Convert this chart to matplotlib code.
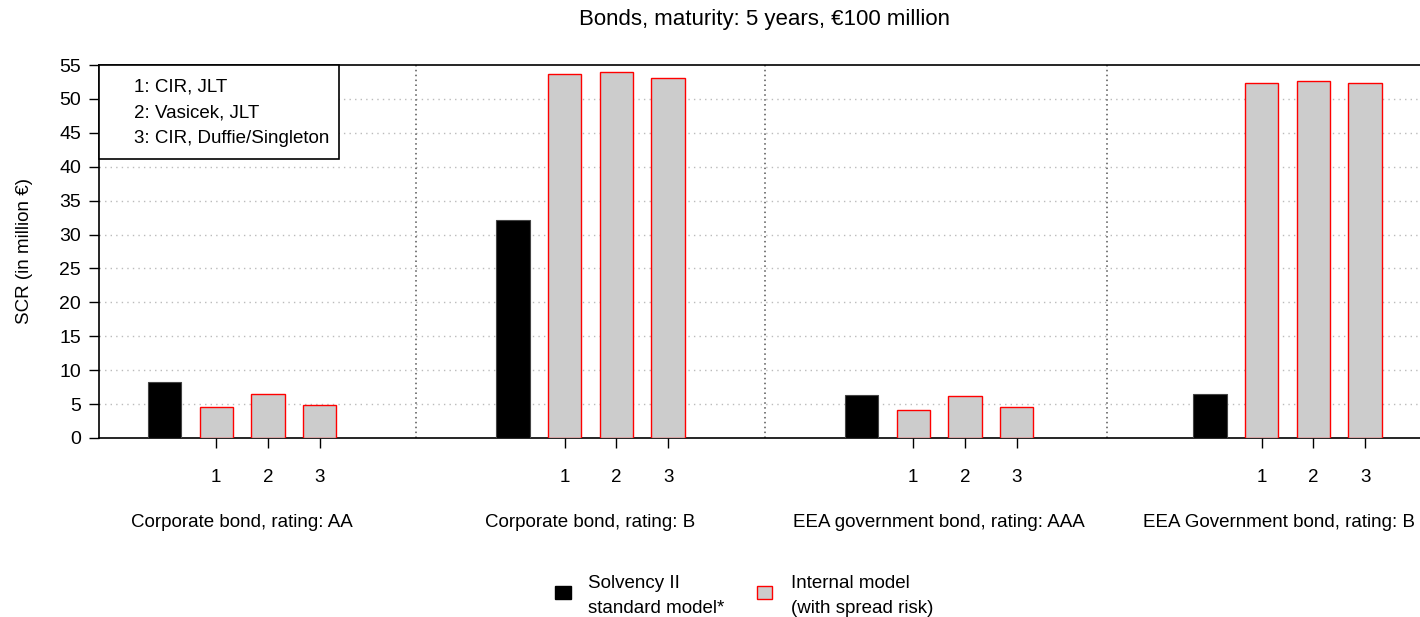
import matplotlib.pyplot as plt
import matplotlib.patches as mpatches

plt.rcParams['font.family'] = ['Liberation Sans', 'DejaVu Sans']
plt.rcParams['font.size'] = 13.5

# data
groups = ['Corporate bond, rating: AA', 'Corporate bond, rating: B',
          'EEA government bond, rating: AAA', 'EEA Government bond, rating: B']
standard = [8.3, 32.2, 6.3, 6.5]
internal = [[4.5, 6.5, 4.9],
            [53.7, 53.9, 53.1],
            [4.1, 6.15, 4.5],
            [52.4, 52.6, 52.4]]
model_ticks = ['1', '2', '3']
model_notes = ['1: CIR, JLT', '2: Vasicek, JLT', '3: CIR, Duffie/Singleton']
separators = [4.86, 11.61, 18.23]

group_step = 6.74
bar_w = 0.646

fig = plt.figure(figsize=(14.2, 6.17), dpi=100)
ax = fig.add_axes([99 / 1420, 1 - 438 / 617, 1 - 99 / 1420, (438 - 65) / 617])

tick_pos = []
tick_lab = []
for g in range(len(groups)):
    x0 = g * group_step
    ax.bar(x0, standard[g], width=bar_w, color='black', edgecolor='#444444', linewidth=0.8, zorder=3)
    for k, v in enumerate(internal[g]):
        ax.bar(x0 + k + 1, v, width=bar_w, color='#cccccc', edgecolor='red', linewidth=1.0, zorder=3)
        tick_pos.append(x0 + k + 1)
        tick_lab.append(model_ticks[k])
    # group label, the last one kept inside the picture
    if g == len(groups) - 1:
        ax.text(0.9965, -12.5, groups[g], ha='right', va='center', transform=ax.get_yaxis_transform(),
                fontsize=13.5)
    else:
        ax.text(x0 + 1.5, -12.5, groups[g], ha='center', va='center', fontsize=13.5)

for s in separators:
    ax.axvline(s, color='#555555', linestyle=(0, (1, 2.2)), linewidth=1.1, zorder=2)

ax.set_xlim(-1.267, 24.28)
ax.set_ylim(0, 55)
ax.set_yticks(range(0, 56, 5))
for yv in range(5, 55, 5):
    ax.axhline(yv, color='#bbbbbb', linestyle=(0, (1, 3)), linewidth=1.0, zorder=1)

ax.set_xticks(tick_pos)
ax.set_xticklabels(tick_lab)
ax.tick_params(axis='x', length=7, width=1, pad=15, labelsize=13.5)
ax.tick_params(axis='y', length=7, width=1, pad=6, labelsize=14)
ax.spines['right'].set_visible(False)
for sp in ['left', 'top', 'bottom']:
    ax.spines[sp].set_linewidth(1.2)

ax.set_ylabel('SCR (in million €)', fontsize=13.5, va='center')
ax.yaxis.set_label_coords(-74 / 1321, 0.5)

# note box in upper left
ax.add_patch(mpatches.Rectangle((0, 1 - 94 / 373), 240 / 1321, 94 / 373, transform=ax.transAxes,
                                facecolor='white', edgecolor='black', linewidth=1.2, zorder=5, clip_on=False))
for i, t in enumerate(model_notes):
    ax.text(35 / 1321, 1 - (22 + 25.8 * i) / 373, t, transform=ax.transAxes, ha='left', va='center',
            fontsize=13.5, zorder=6)

fig.text(765 / 1420, 1 - 20 / 617, 'Bonds, maturity: 5 years, €100 million', ha='center', va='center', fontsize=16)

# bottom legend
fig.patches.append(mpatches.Rectangle((555 / 1420, 1 - 599 / 617), 16 / 1420, 13 / 617,
                                      transform=fig.transFigure, facecolor='black', edgecolor='black'))
fig.text(588 / 1420, 1 - 596 / 617, 'Solvency II\nstandard model*', ha='left', va='center', fontsize=13.5,
         linespacing=1.6)
fig.patches.append(mpatches.Rectangle((757 / 1420, 1 - 599 / 617), 15 / 1420, 13 / 617,
                                      transform=fig.transFigure, facecolor='#cccccc', edgecolor='red', linewidth=1))
fig.text(791 / 1420, 1 - 596 / 617, 'Internal model\n(with spread risk)', ha='left', va='center', fontsize=13.5,
         linespacing=1.6)

fig.savefig('out.png', dpi=100)
